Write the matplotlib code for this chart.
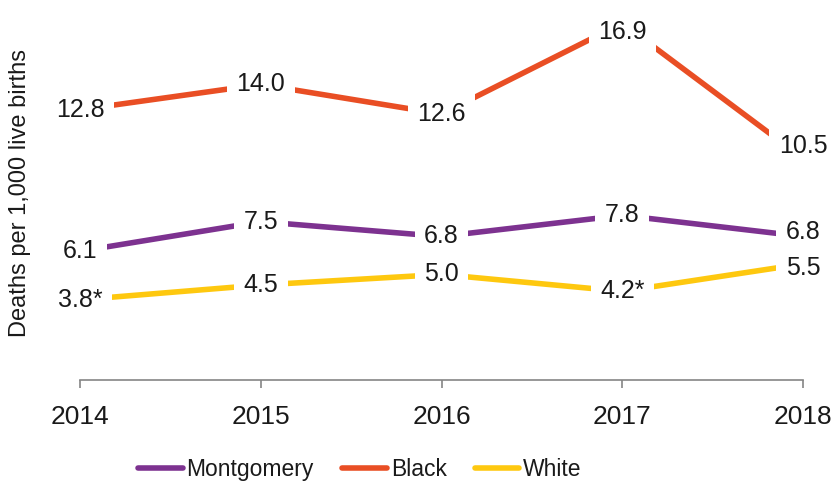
import numpy as np
import matplotlib
matplotlib.use('Agg')
import matplotlib.pyplot as plt

plt.rcParams.update({'font.family': ['Liberation Sans', 'DejaVu Sans'],
                     'text.color': '#1a1a1a'})

years = ['2014', '2015', '2016', '2017', '2018']
montgomery = [6.1, 7.5, 6.8, 7.8, 6.8]
black = [12.8, 14.0, 12.6, 16.9, 10.5]
white = [3.8, 4.5, 5.0, 4.2, 5.5]
white_labels = ['3.8*', '4.5', '5.0', '4.2*', '5.5']

series = [('Montgomery', montgomery, '#7D3290', None),
          ('Black', black, '#E94E24', None),
          ('White', white, '#FEC80F', white_labels)]

# small label nudges (points) where the original moved them off the point
nudge = {('Black', 3): -6, ('Black', 4): 9, ('Montgomery', 4): 3,
         ('White', 4): -3}

fig = plt.figure(figsize=(8.31, 4.82), dpi=100)
ax = fig.add_axes([80/831, 1 - 380/482, (803 - 80)/831, 380/482])
x = np.arange(len(years))

for name, vals, col, labs in series:
    ax.plot(x, vals, color=col, linewidth=4, label=name, zorder=2,
            solid_capstyle='butt')
    if labs is None:
        labs = ['%.1f' % v for v in vals]
    for i, (xi, v, s) in enumerate(zip(x, vals, labs)):
        ax.annotate(s, (xi, v), xytext=(0, nudge.get((name, i), 0)),
                    textcoords='offset points', ha='center', va='center',
                    fontsize=18, zorder=3, annotation_clip=False,
                    bbox=dict(boxstyle='square,pad=0.38', fc='white', ec='none'))

ax.set_xlim(0, 4)
ax.set_ylim(0, 18)
ax.set_xticks(x)
ax.set_xticklabels(years, fontsize=19)
ax.set_yticks([])
for s in ['top', 'right', 'left']:
    ax.spines[s].set_visible(False)
ax.spines['bottom'].set_color('#858585')
ax.spines['bottom'].set_linewidth(1.2)
ax.tick_params(axis='x', direction='out', length=6, width=1.2, color='#858585',
               pad=12, labelcolor='#1a1a1a')
ax.patch.set_visible(False)

fig.text(20/831, 1 - 193/482, 'Deaths per 1,000 live births', rotation=90,
         ha='center', va='center', fontsize=17)

leg = fig.legend(loc='center', bbox_to_anchor=(0.433, 0.026), ncol=3,
                 frameon=False, fontsize=16.5, handlelength=1.96,
                 handletextpad=0.17, columnspacing=1.22)
for line in leg.get_lines():
    line.set_solid_capstyle('round')

fig.savefig('out.png', dpi=100)
